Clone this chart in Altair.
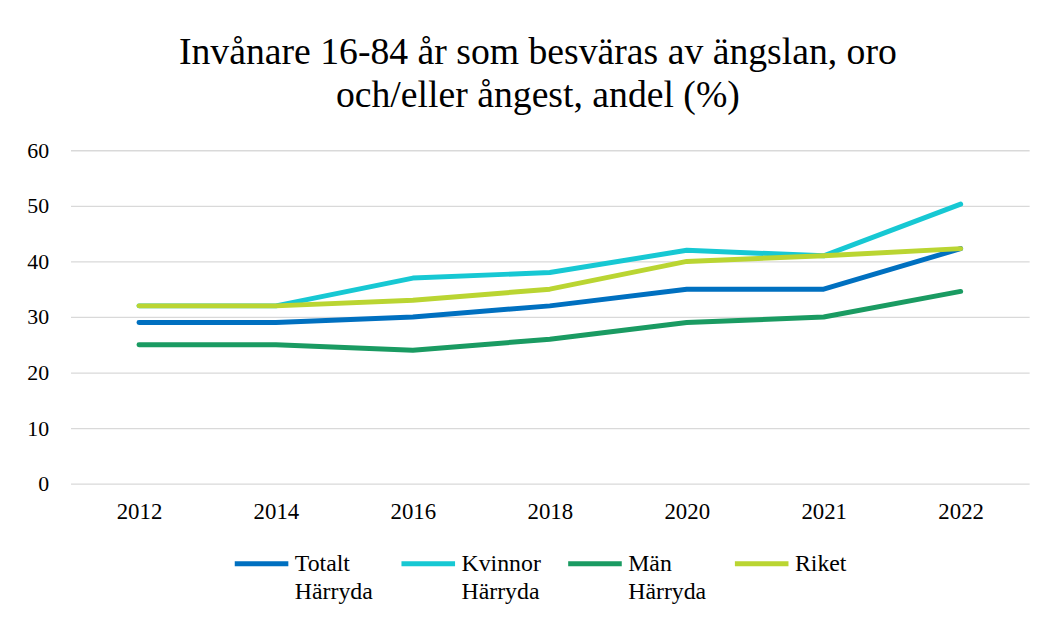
import altair as alt
import pandas as pd

years = ["2012", "2014", "2016", "2018", "2020", "2021", "2022"]
totalt = [29, 29, 30, 32, 35, 35, 42.3]
kvinnor = [32, 32, 37, 38, 42, 41, 50.3]
man = [25, 25, 24, 26, 29, 30, 34.6]
riket = [32, 32, 33, 35, 40, 41, 42.3]

series_names = ["Totalt Härryda", "Kvinnor Härryda", "Män Härryda", "Riket"]
series_colors = ["#0070C0", "#17C8D3", "#1A9B62", "#BAD532"]

rows = []
for name, vals in zip(series_names, [totalt, kvinnor, man, riket]):
    for y, v in zip(years, vals):
        rows.append({"year": y, "value": v, "series": name})
df = pd.DataFrame(rows)

FONT = "'Liberation Serif', 'Times New Roman', Times, serif"

legend = alt.Legend(
    title=None, orient="none", direction="horizontal",
    columns=4, legendX=163, legendY=387,
    symbolType="stroke", symbolSize=2916,
    symbolStrokeWidth=5, symbolOffset=0,
    labelOffset=4, labelFontSize=24, labelFont=FONT,
    labelColor="#000000", labelLimit=200,
    labelBaseline="middle",
    labelExpr="indexof(datum.label, ' ') > 0 ? split(datum.label, ' ') : [datum.label, ' ']",
    gridAlign="all", columnPadding=17,
)

chart = (
    alt.Chart(df)
    .mark_line(strokeWidth=5, strokeCap="round", strokeJoin="round")
    .encode(
        x=alt.X("year:N", sort=years, title=None,
                scale=alt.Scale(paddingInner=0, paddingOuter=0.5),
                axis=alt.Axis(labelAngle=0, labelFontSize=23, labelPadding=17,
                              ticks=False, domain=False, grid=False,
                              labelColor="#000000", labelFont=FONT)),
        y=alt.Y("value:Q", title=None,
                scale=alt.Scale(domain=[0, 60], nice=False),
                axis=alt.Axis(values=[0, 10, 20, 30, 40, 50, 60], labelFontSize=22,
                              labelPadding=22, ticks=False, domain=False,
                              gridColor="#D9D9D9", gridWidth=1.3,
                              labelColor="#000000", labelFont=FONT)),
        color=alt.Color("series:N", sort=series_names,
                        scale=alt.Scale(domain=series_names, range=series_colors),
                        legend=legend),
    )
    .properties(
        width=966, height=336,
        title=alt.TitleParams(
            ["Invånare 16-84 år som besväras av ängslan, oro", "och/eller ångest, andel (%)"],
            font=FONT, fontSize=38, fontWeight="normal", color="#000000",
            lineHeight=43, anchor="middle", dx=-12, offset=25,
        ),
        autosize=alt.AutoSizeParams(type="none"),
        padding={"left": 63, "top": 141, "right": 16, "bottom": 134},
    )
    .configure(
        style={"guide-label": {"lineHeight": 28}},
        view=alt.ViewConfig(stroke=None),
    )
)

chart.save("out.html", embed_options={"renderer": "svg", "actions": False})
